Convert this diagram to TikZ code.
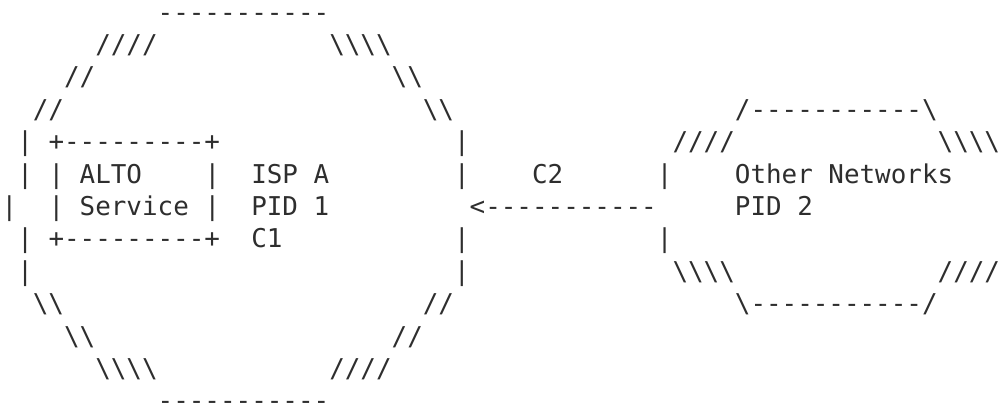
\documentclass[tikz,border=0pt]{standalone}
\usepackage{fontspec}
\setmonofont{DejaVu Sans Mono}
\usepackage{xcolor}
\definecolor{ink}{HTML}{2E2E2E}
\newcommand{\bsl}{\textbackslash}

\begin{document}
\begin{tikzpicture}[x=15.6pt, y=-32.4pt,
    txt/.style={anchor=base west, inner sep=0pt, text=ink,
      font=\ttfamily\fontsize{25.9pt}{32.4pt}\selectfont}]
    % Page
    \fill[white] (-1.5pt,21pt) rectangle (1001.5pt,-385pt);

    % ISP A, the left octagon
    \node[txt] (topA) at (10,0) {-----------};
    \node[txt] (nwA1) at (6,1) {////};
    \node[txt] (neA1) at (21,1) {\bsl\bsl\bsl\bsl};
    \node[txt] (nwA2) at (4,2) {//};
    \node[txt] (neA2) at (25,2) {\bsl\bsl};
    \node[txt] (nwA3) at (2,3) {//};
    \node[txt] (neA3) at (27,3) {\bsl\bsl};
    \foreach \r in {4,5,7,8} {
        \node[txt] (westA\r) at (1,\r) {|};
        \node[txt] (eastA\r) at (29,\r) {|};
    }
    \node[txt] (westA6) at (0,6) {|};
    \node[txt] (swA3) at (2,9) {\bsl\bsl};
    \node[txt] (seA3) at (27,9) {//};
    \node[txt] (swA2) at (4,10) {\bsl\bsl};
    \node[txt] (seA2) at (25,10) {//};
    \node[txt] (swA1) at (6,11) {\bsl\bsl\bsl\bsl};
    \node[txt] (seA1) at (21,11) {////};
    \node[txt] (botA) at (10,12) {-----------};

    % ALTO Service box
    \node[txt] (boxT) at (3,4) {+---------+};
    \node[txt] (boxB) at (3,7) {+---------+};
    \foreach \r in {5,6} {
        \node[txt] (boxL\r) at (3,\r) {|};
        \node[txt] (boxR\r) at (13,\r) {|};
    }
    \node[txt] (alto) at (5,5) {ALTO};
    \node[txt] (service) at (5,6) {Service};

    % Labels of ISP A
    \node[txt] (ispA) at (16,5) {ISP A};
    \node[txt] (pid1) at (16,6) {PID 1};
    \node[txt] (c1) at (16,7) {C1};

    % Link C2
    \node[txt] (c2) at (34,5) {C2};
    \node[txt] (link) at (30,6) {<-----------};
    \node[txt] (westB5) at (42,5) {|};
    \node[txt] (westB7) at (42,7) {|};

    % Other Networks, the right octagon
    \node[txt] (topB) at (47,3) {/-----------\bsl};
    \node[txt] (nwB) at (43,4) {////};
    \node[txt] (neB) at (60,4) {\bsl\bsl\bsl\bsl};
    \node[txt] (other) at (47,5) {Other Networks};
    \node[txt] (pid2) at (47,6) {PID 2};
    \node[txt] (swB) at (43,8) {\bsl\bsl\bsl\bsl};
    \node[txt] (seB) at (60,8) {////};
    \node[txt] (botB) at (47,9) {\bsl-----------/};
\end{tikzpicture}
\end{document}
